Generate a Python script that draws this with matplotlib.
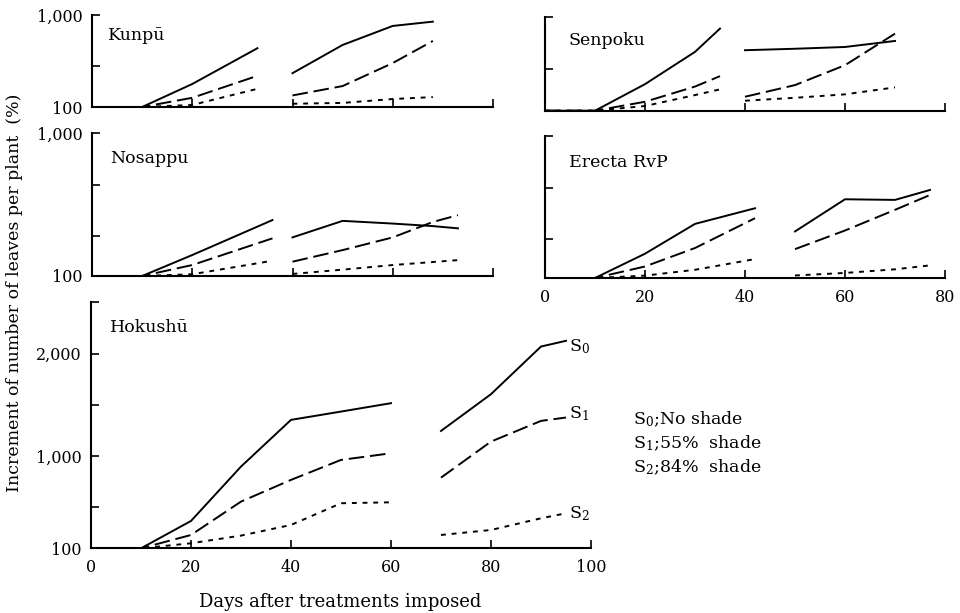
import matplotlib
matplotlib.use('Agg')
import matplotlib.pyplot as plt

plt.rcParams['font.family'] = ['DejaVu Serif']
plt.rcParams['mathtext.fontset'] = 'custom'
plt.rcParams['mathtext.rm'] = 'DejaVu Serif'
plt.rcParams['mathtext.it'] = 'DejaVu Serif:italic'
plt.rcParams['mathtext.default'] = 'regular'

# Kunpu
kunpu_days_1 = [0, 10, 20, 33]
kunpu_s0_1 = [100, 100, 325, 675]
kunpu_s1_1 = [100, 100, 190, 405]
kunpu_s2_1 = [100, 100, 120, 278]
kunpu_days_2 = [40, 50, 60, 68]
kunpu_s0_2 = [431, 707, 893, 935]
kunpu_s1_2 = [213, 305, 530, 746]
kunpu_s2_2 = [132, 140, 178, 197]

# Senpoku
senpoku_days_1 = [0, 10, 20, 30, 35]
senpoku_s0_1 = [100, 100, 355, 665, 889]
senpoku_s1_1 = [100, 100, 186, 332, 432]
senpoku_s2_1 = [100, 100, 145, 250, 305]
senpoku_days_2 = [40, 50, 60, 70]
senpoku_s0_2 = [681, 695, 712, 770]
senpoku_s1_2 = [234, 346, 537, 840]
senpoku_s2_2 = [196, 224, 257, 324]

# Nosappu
nosappu_days_1 = [0, 10, 20, 36]
nosappu_s0_1 = [100, 100, 232, 452]
nosappu_s1_1 = [100, 100, 169, 337]
nosappu_s2_1 = [100, 100, 111, 196]
nosappu_days_2 = [40, 50, 60, 68, 73]
nosappu_s0_2 = [343, 447, 430, 414, 400]
nosappu_s1_2 = [190, 263, 343, 440, 483]
nosappu_s2_2 = [113, 140, 169, 188, 200]

# Erecta RvP
erecta_days_1 = [0, 10, 20, 30, 42]
erecta_s0_1 = [100, 100, 254, 443, 542]
erecta_s1_1 = [100, 100, 173, 290, 479]
erecta_s2_1 = [100, 100, 115, 152, 220]
erecta_days_2 = [50, 60, 70, 77]
erecta_s0_2 = [395, 599, 595, 658]
erecta_s1_2 = [283, 401, 532, 626]
erecta_s2_2 = [116, 132, 155, 180]

# Hokushu
hokushu_days_1 = [0, 10, 20, 30, 40, 50, 60]
hokushu_s0_1 = [100, 100, 367, 898, 1354, 1435, 1517]
hokushu_s1_1 = [100, 100, 230, 556, 768, 963, 1028]
hokushu_s2_1 = [100, 100, 149, 224, 328, 540, 549]
hokushu_days_2 = [70, 80, 90, 95]
hokushu_s0_2 = [1246, 1605, 2070, 2126]
hokushu_s1_2 = [790, 1142, 1344, 1377]
hokushu_s2_2 = [230, 279, 393, 442]

W, H = 960, 613
fig = plt.figure(figsize=(W / 100, H / 100), dpi=100)

styles = [dict(ls='-'), dict(ls=(0, (8, 3))), dict(ls=(0, (2.5, 3)))]


def add_panel(box, name, name_pos, segments, xlim, ylim, yticks, ylabels, xlabels):
    left, top, right, bottom = box
    ax = fig.add_axes([left / W, 1 - bottom / H, (right - left) / W, (bottom - top) / H])
    for days, series in segments:
        for vals, st in zip(series, styles):
            ax.plot(days, vals, color='black', lw=1.4, **st)
    ax.set_xlim(*xlim)
    ax.set_ylim(*ylim)
    for s in ['top', 'right']:
        ax.spines[s].set_visible(False)
    for s in ['left', 'bottom']:
        ax.spines[s].set_linewidth(1.5)
    ax.set_xticks(list(range(0, xlim[1] + 1, 20)))
    if xlabels:
        ax.set_xticklabels([str(t) for t in range(0, xlim[1] + 1, 20)])
    else:
        ax.set_xticklabels([])
    ax.set_yticks(yticks)
    ax.set_yticklabels(ylabels)
    ax.tick_params(axis='both', direction='in', length=6, width=1.2, labelsize=11.5)
    ax.tick_params(axis='x', pad=8)
    ax.tick_params(axis='y', pad=7)
    ax.text(name_pos[0], name_pos[1], name, transform=ax.transAxes,
            fontsize=12.5, ha='left', va='center')
    return ax


small_ticks_a = [100, 500, 1000]
small_ticks_b = [100, 350, 670, 1000]

add_panel((92, 15, 493, 107), 'Kunpū', (0.04, 0.78),
          [(kunpu_days_1, [kunpu_s0_1, kunpu_s1_1, kunpu_s2_1]),
           (kunpu_days_2, [kunpu_s0_2, kunpu_s1_2, kunpu_s2_2])],
          (0, 80), (100, 1000), small_ticks_a, ['100', '', '1,000'], False)

add_panel((545, 17, 945, 110.7), 'Senpoku', (0.06, 0.75),
          [(senpoku_days_1, [senpoku_s0_1, senpoku_s1_1, senpoku_s2_1]),
           (senpoku_days_2, [senpoku_s0_2, senpoku_s1_2, senpoku_s2_2])],
          (0, 80), (100, 1000), small_ticks_a, ['', '', ''], False)

add_panel((92, 133, 493, 276), 'Nosappu', (0.045, 0.82),
          [(nosappu_days_1, [nosappu_s0_1, nosappu_s1_1, nosappu_s2_1]),
           (nosappu_days_2, [nosappu_s0_2, nosappu_s1_2, nosappu_s2_2])],
          (0, 80), (100, 1000), small_ticks_b, ['100', '', '', '1,000'], False)

add_panel((545, 136, 945, 278), 'Erecta RvP', (0.06, 0.81),
          [(erecta_days_1, [erecta_s0_1, erecta_s1_1, erecta_s2_1]),
           (erecta_days_2, [erecta_s0_2, erecta_s1_2, erecta_s2_2])],
          (0, 80), (100, 1000), small_ticks_b, ['', '', '', ''], True)

axh = add_panel((91, 302.5, 591, 548.3), 'Hokushū', (0.037, 0.90),
                [(hokushu_days_1, [hokushu_s0_1, hokushu_s1_1, hokushu_s2_1]),
                 (hokushu_days_2, [hokushu_s0_2, hokushu_s1_2, hokushu_s2_2])],
                (0, 100), (100, 2500), [100, 500, 1000, 1500, 2000, 2500],
                ['100', '', '1,000', '', '2,000', ''], True)

end_labels = ['S$_0$', 'S$_1$', 'S$_2$']
end_ends = [hokushu_s0_2[-1], hokushu_s1_2[-1], hokushu_s2_2[-1]]
for lab, v, dy in zip(end_labels, end_ends, [-60, 40, 0]):
    axh.text(hokushu_days_2[-1] + 0.6, v + dy, lab, fontsize=12.5, ha='left', va='center',
             clip_on=False)

legend_lines = ['S$_0$;No shade', 'S$_1$;55%  shade', 'S$_2$;84%  shade']
for i, t in enumerate(legend_lines):
    fig.text(633 / W, 1 - (419 + 24 * i) / H, t, fontsize=12.5, ha='left', va='center')

fig.text(15 / W, 1 - 293 / H, 'Increment of number of leaves per plant  (%)',
         rotation=90, fontsize=12.5, ha='center', va='center')
fig.text(340 / W, 1 - 602 / H, 'Days after treatments imposed',
         fontsize=13, ha='center', va='center')

fig.savefig('out.png', dpi=100)
